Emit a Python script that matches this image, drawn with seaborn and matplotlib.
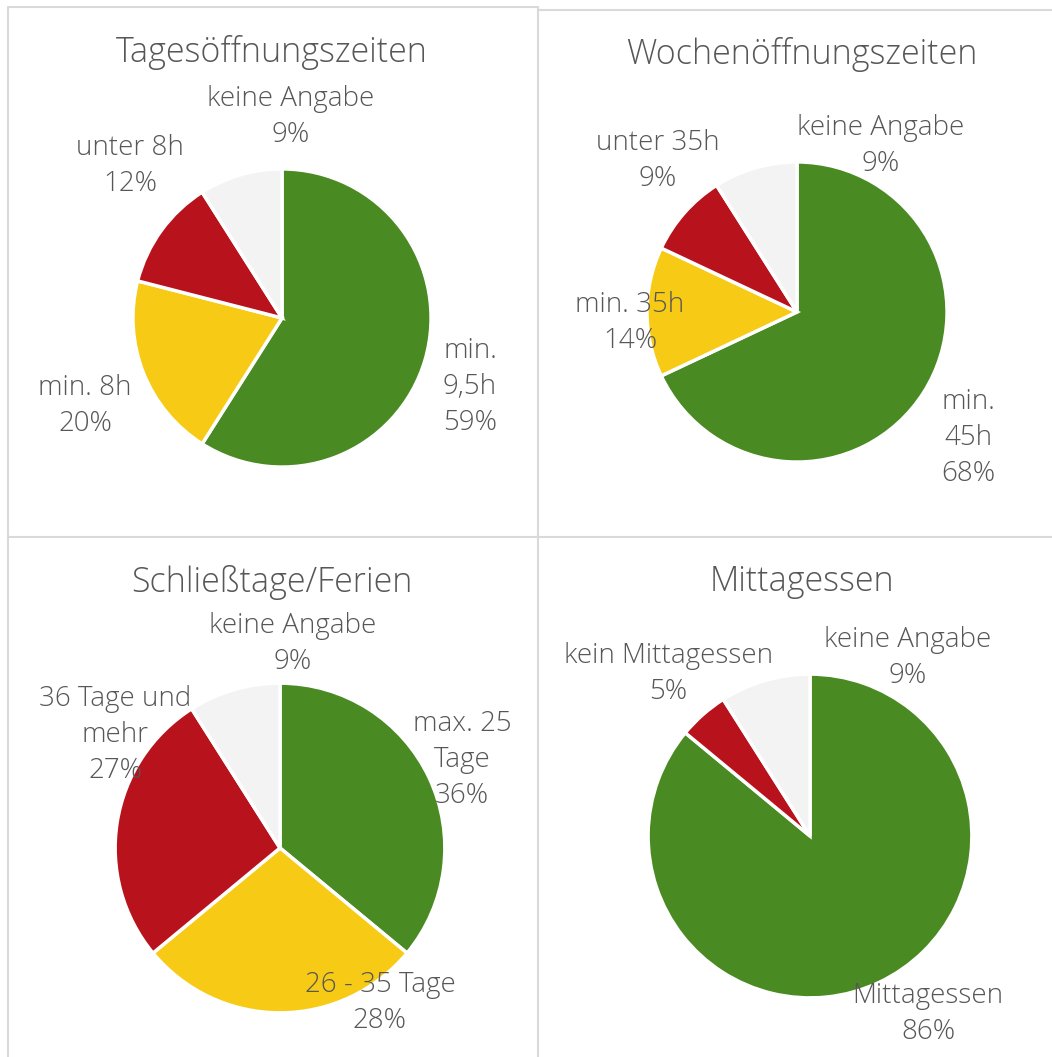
import matplotlib.pyplot as plt
import matplotlib.lines as mlines
import seaborn as sns

# data
titles = ["Tagesöffnungszeiten", "Wochenöffnungszeiten", "Schließtage/Ferien", "Mittagessen"]
tages_labels = ["min.\n9,5h", "min. 8h", "unter 8h", "keine Angabe"]
tages_values = [59, 20, 12, 9]
wochen_labels = ["min.\n45h", "min. 35h", "unter 35h", "keine Angabe"]
wochen_values = [68, 14, 9, 9]
ferien_labels = ["max. 25\nTage", "26 - 35 Tage", "36 Tage und\nmehr", "keine Angabe"]
ferien_values = [36, 28, 27, 9]
essen_labels = ["Mittagessen", "kein Mittagessen", "keine Angabe"]
essen_values = [86, 5, 9]

GREEN, YELLOW, RED, GREY = "#4a8a23", "#f7cb15", "#b8131c", "#f3f3f3"
TXT = "#575757"

sns.set_theme(style="white")
plt.rcParams['font.family'] = ['Open Sans', 'DejaVu Sans']

W, H = 1052, 1057
fig = plt.figure(figsize=(W / 100, H / 100), dpi=100)

def fx(x):
    return x / W

def fy(y):
    return 1 - y / H

# panel layout in pixels: pie centre, radius, title position, label positions
panels = [
    dict(vals=tages_values, labs=tages_labels, cols=[GREEN, YELLOW, RED, GREY],
         c=(282, 318), r=149, title=(272, 52),
         pos=[(470, 387), (85, 406), (130, 166), (291, 117)]),
    dict(vals=wochen_values, labs=wochen_labels, cols=[GREEN, YELLOW, RED, GREY],
         c=(797, 312), r=150, title=(802, 55),
         pos=[(968, 438), (630, 323), (658, 161), (881, 146)]),
    dict(vals=ferien_values, labs=ferien_labels, cols=[GREEN, YELLOW, RED, GREY],
         c=(280, 848), r=165, title=(272, 582),
         pos=[(462, 760), (380, 1003), (115, 735), (293, 644)]),
    dict(vals=essen_values, labs=essen_labels, cols=[GREEN, RED, GREY],
         c=(810, 836), r=162, title=(802, 582),
         pos=[(928, 1014), (668, 674), (908, 658)]),
]

for p, title in zip(panels, titles):
    cx, cy = p['c']
    r = p['r'] + 2
    ax = fig.add_axes([fx(cx - r), fy(cy + r), 2 * r / W, 2 * r / H])
    ax.pie(p['vals'], colors=p['cols'], startangle=90, counterclock=False,
           wedgeprops=dict(edgecolor='white', linewidth=2.5))
    ax.set_xlim(-1.013, 1.013)
    ax.set_ylim(-1.013, 1.013)
    ax.set_aspect('equal')
    ax.axis('off')
    fig.text(fx(p['title'][0]), fy(p['title'][1]), title, fontsize=24.5,
             color=TXT, ha='center', va='center', fontweight='light')
    for lab, v, (lx, ly) in zip(p['labs'], p['vals'], p['pos']):
        fig.text(fx(lx), fy(ly), f"{lab}\n{v}%", fontsize=20, color=TXT,
                 ha='center', va='center', linespacing=1.38, fontweight='light')

# panel borders
BC = "#d9d9d9"
segs = [((8, 538), (7, 7)), ((538, 1052), (10, 10)), ((8, 1052), (537, 537)),
        ((8, 8), (7, 1057)), ((538, 538), (7, 1057))]
for xs, ys in segs:
    fig.add_artist(mlines.Line2D([fx(xs[0]), fx(xs[1])], [fy(ys[0]), fy(ys[1])],
                                 color=BC, linewidth=1.5))

plt.savefig('out.png', dpi=100)
